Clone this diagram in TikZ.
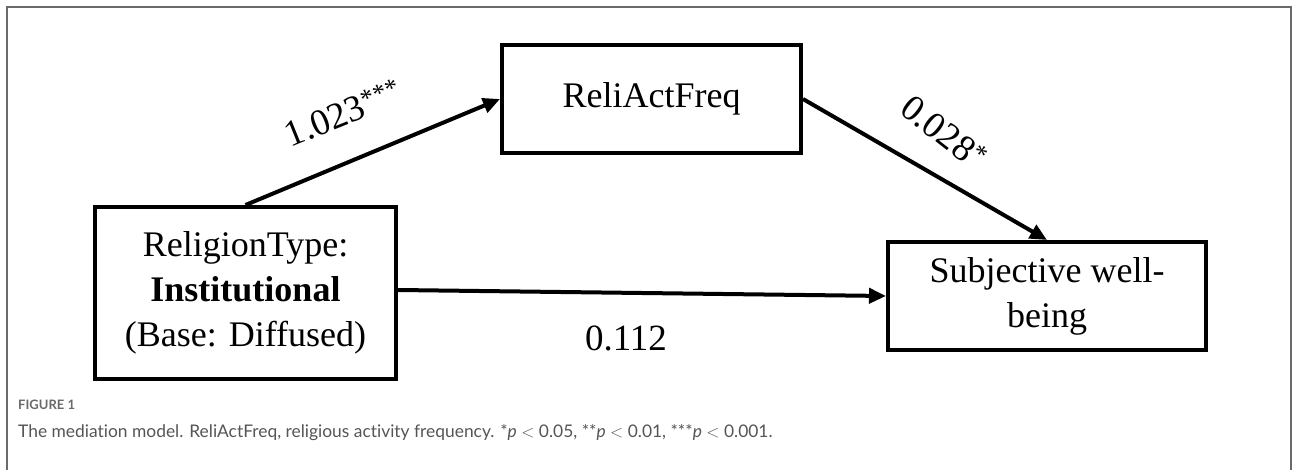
\documentclass[tikz,border=0pt]{standalone}
\usepackage{fontspec}
\setmainfont{Liberation Serif}
\newfontfamily\capfont[Ligatures=NoCommon]{Lato}
\usetikzlibrary{arrows.meta}
\definecolor{framegray}{HTML}{6A6A6A}
\definecolor{capgray}{HTML}{555555}
\tikzset{
  varbox/.style={draw=black, line width=4pt, rectangle, inner sep=0pt, align=center,
    font=\fontsize{36}{45}\selectfont},
  path/.style={draw=black, line width=4pt, -{Triangle[length=17pt,width=15pt]}},
  coef/.style={font=\fontsize{37}{40}\selectfont, inner sep=0pt},
}
\begin{document}
\begin{tikzpicture}[x=1pt,y=-1pt]
\useasboundingbox (0,0) rectangle (1293,470);
\draw[framegray, line width=2pt] (7,470) -- (7,7) -- (1291,7) -- (1291,470);
\node[varbox, minimum width=301pt, minimum height=172pt] (rt) at (245.5,293)
  {ReligionType:\\\textbf{Institutional}\\(Base: Diffused)};
\node[varbox, minimum width=299pt, minimum height=108pt] (raf) at (651.5,99) {ReliActFreq};
\node[varbox, minimum width=318pt, minimum height=108pt] (swb) at (1047,296)
  {Subjective well-\\being};
\draw[path] (rt.north) -- (raf.west);
\draw[path] (raf.east) -- (swb.north);
\draw[path] ([yshift=3pt]rt.east) -- (swb.west);
\node[coef, rotate=22] (c1) at (343,113) {1.023\textsuperscript{***}};
\node[coef, rotate=-38] (c2) at (944,132) {0.028\textsuperscript{*}};
\node[coef] (c3) at (626,338) {0.112};
\node[anchor=west, inner sep=0pt, text=framegray, font=\capfont\fontsize{13}{15}\selectfont\bfseries] (fig) at (18,405) {FIGURE 1};
\node[anchor=west, inner sep=0pt, text=capgray, font=\capfont\fontsize{17.4}{19}\selectfont] (cap) at (18,433)
  {The mediation model. ReliActFreq, religious activity frequency. *\textit{p} $<$ 0.05, **\textit{p} $<$ 0.01, ***\textit{p} $<$ 0.001.};
\end{tikzpicture}
\end{document}
